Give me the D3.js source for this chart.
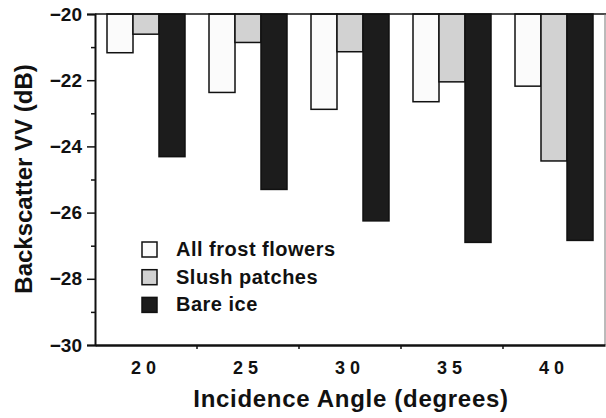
<!DOCTYPE html>
<html><head><meta charset="utf-8">
<script src="https://cdn.jsdelivr.net/npm/d3@7"></script>
<style>
body{margin:0;background:#fff;}
svg{display:block;font-family:"Liberation Sans",Arial,sans-serif;font-weight:bold;}
</style></head>
<body><svg id="c" width="606" height="418"></svg>
<script>
const categories = ["20","25","30","35","40"];
const seriesNames = ["All frost flowers","Slush patches","Bare ice"];
const frostFlowers = [-21.17,-22.37,-22.88,-22.65,-22.18];
const slushPatches = [-20.61,-20.86,-21.14,-22.05,-24.44];
const bareIce = [-24.31,-25.30,-26.25,-26.90,-26.84];
const yMajorTicks = [-30,-28,-26,-24,-22,-20];
const yMinorTicks = [-29,-27,-25,-23,-21];
const seriesColors = ["#fbfbfb","#d2d2d2","#1c1c1c"];

const svg = d3.select("#c");
const x0 = d3.scaleBand().domain(categories).range([95,605]).paddingInner(0).paddingOuter(0);
const x1 = d3.scaleBand().domain(seriesNames).range([12,90]);
const y = d3.scaleLinear().domain([-30,-20]).range([345,14]);
const color = d3.scaleOrdinal().domain(seriesNames).range(seriesColors);
const allSeries = [frostFlowers, slushPatches, bareIce];

// bars
const g = svg.append("g");
categories.forEach((c,i)=>{
  seriesNames.forEach((s,j)=>{
    const v = allSeries[j][i];
    g.append("rect")
      .attr("x", x0(c)+x1(s))
      .attr("y", y(-20))
      .attr("width", x1.bandwidth())
      .attr("height", y(v)-y(-20))
      .attr("fill", color(s))
      .attr("stroke","#111")
      .attr("stroke-width",1.5);
  });
});

// frame top and right
svg.append("line").attr("x1",95).attr("x2",606).attr("y1",y(-20)).attr("y2",y(-20)).attr("stroke","#111").attr("stroke-width",1.5);
svg.append("line").attr("x1",605).attr("x2",605).attr("y1",y(-20)).attr("y2",y(-30)).attr("stroke","#777").attr("stroke-width",1);

// y axis
const yAxis = d3.axisLeft(y).tickValues(yMajorTicks).tickSize(8).tickPadding(5).tickFormat(d3.format("d"));
const ya = svg.append("g").attr("transform","translate(95,0)").call(yAxis);
ya.select(".domain").attr("stroke","#111").attr("stroke-width",2);
ya.selectAll(".tick line").attr("stroke","#111").attr("stroke-width",1.5);
ya.selectAll(".tick text").attr("font-size",19).attr("font-weight","bold").attr("fill","#111").attr("font-family","Liberation Sans, Arial, sans-serif");
const yMinor = d3.axisLeft(y).tickValues(yMinorTicks).tickSize(4).tickFormat("");
const ym = svg.append("g").attr("transform","translate(95,0)").call(yMinor);
ym.select(".domain").remove();
ym.selectAll(".tick line").attr("stroke","#111").attr("stroke-width",1.5);

// x axis
const xAxis = d3.axisBottom(x0).tickSize(0).tickPadding(16);
const xa = svg.append("g").attr("transform","translate(0,345)").call(xAxis);
xa.select(".domain").attr("stroke","#111").attr("stroke-width",2.5);
xa.selectAll(".tick text").attr("font-size",18).attr("font-weight","bold").attr("fill","#111")
  .attr("letter-spacing","5px").attr("font-family","Liberation Sans, Arial, sans-serif");
categories.slice(1).forEach(c=>{
  svg.append("line").attr("x1",x0(c)).attr("x2",x0(c)).attr("y1",345).attr("y2",349).attr("stroke","#111").attr("stroke-width",1.5);
});

// axis titles
svg.append("text").attr("x",351).attr("y",407).attr("text-anchor","middle").attr("font-size",24).attr("letter-spacing","0.7px").attr("fill","#111")
  .text("Incidence Angle (degrees)");
svg.append("text").attr("transform","translate(32,179) rotate(-90)").attr("text-anchor","middle").attr("font-size",24).attr("fill","#111")
  .text("Backscatter VV (dB)");

// legend
const lg = svg.append("g");
seriesNames.forEach((s,j)=>{
  const yy = 242 + j*27.7;
  lg.append("rect").attr("x",142).attr("y",yy).attr("width",15).attr("height",15)
    .attr("fill",color(s)).attr("stroke","#111").attr("stroke-width",1.5);
  lg.append("text").attr("x",176).attr("y",yy+14).attr("font-size",20).attr("letter-spacing","0.5px").attr("fill","#111").text(s);
});
</script></body></html>
